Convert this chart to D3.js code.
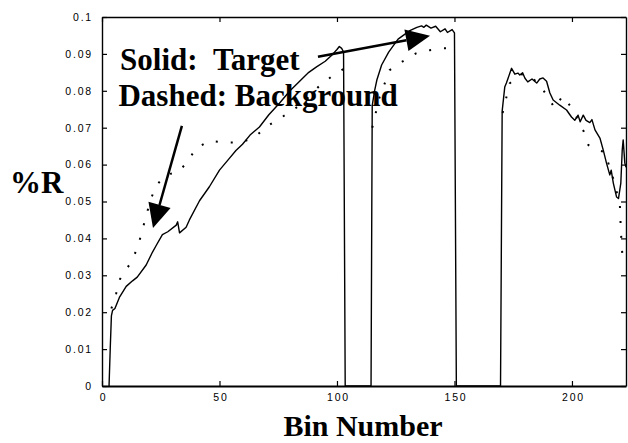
<!DOCTYPE html>
<html><head><meta charset="utf-8">
<script src="https://cdn.jsdelivr.net/npm/d3@7"></script>
<style>
html,body{margin:0;padding:0;background:#fff;}
svg{display:block;}
.tick text{font-family:"Liberation Sans",Arial,sans-serif;font-size:10.5px;letter-spacing:1.8px;fill:#000;}
</style></head>
<body>
<script>
// ---- data ----
const solidBins = [3,3.5,4,4.5,5.5,7.4,10.3,13,15,18.8,21.5,23,25.7,28,31.6,32.2,33,35.8,37.2,41.5,45.7,50,54.2,57,59.8,63,67,71,75.6,80,84,88,91.3,95,98,100,101,102,102.8,103.5,
  114.5,115,116,117,119,122,126,131,134,136,137,138,140,142,144,146,147,149,150,150.8,
  169.6,170.3,171.4,172.1,174.3,175.7,177,177.8,179,180,181.2,183,185,186.3,187.7,189.2,190.6,192,194.8,197.7,199.8,201.2,202.6,203.5,204.8,206,207.6,208.5,209.8,211.9,213.3,214.7,216.1,216.7,217.6,219,219.8,220.8,221.4,221.8,222.5,223];
const solidVals = [0,0.010,0.019,0.0205,0.021,0.024,0.027,0.0285,0.0295,0.0328,0.0363,0.038,0.041,0.0418,0.0436,0.0445,0.0415,0.043,0.045,0.0502,0.054,0.0585,0.0617,0.0638,0.0655,0.068,0.0702,0.0735,0.0767,0.080,0.0825,0.085,0.0865,0.088,0.0898,0.0912,0.092,0.0915,0.0905,0,
  0,0.076,0.080,0.083,0.087,0.0905,0.094,0.0963,0.0972,0.0976,0.0972,0.0978,0.097,0.0975,0.096,0.0968,0.0958,0.0966,0.0957,0,
  0,0.0745,0.081,0.0821,0.0861,0.0845,0.0848,0.0843,0.0849,0.0834,0.0824,0.0832,0.0821,0.0832,0.0835,0.0826,0.0794,0.0775,0.0761,0.0748,0.0729,0.072,0.0734,0.0716,0.0734,0.072,0.0714,0.0722,0.0694,0.0672,0.064,0.0604,0.0572,0.0585,0.055,0.0512,0.0508,0.055,0.064,0.0667,0.0604,0.0593];

const dashBins1 = [4,6,7.7,11.6,14.7,16.7,18.5,20.5,22.7,26,29,32.5,36.3,40.1,45.7,52.5,59.4,65,70.5,75.6,80.7,86,92,97.6,103];
const dashVals1 = [0.021,0.025,0.029,0.0328,0.0368,0.041,0.0455,0.050,0.054,0.0565,0.0575,0.058,0.0607,0.0645,0.0664,0.066,0.066,0.0675,0.0705,0.0725,0.0745,0.077,0.081,0.0838,0.086];
const dashBins2 = [115,118,122.4,128,133.8,139.5,145,150.5];
const dashVals2 = [0.070,0.078,0.0856,0.088,0.0902,0.091,0.0915,0.0915];
const dashBins3 = [170.5,173.5,178,182,187,192.7,196,200,205,207,210.5,214,218,220.4,220.7,221,221.5,222];
const dashVals3 = [0.074,0.082,0.0845,0.0843,0.081,0.0753,0.0786,0.0753,0.069,0.0653,0.064,0.0634,0.0553,0.049,0.044,0.040,0.035,0.033];

const xTicks = [0,50,100,150,200];
const xTickLabels = ["0","50","100","150","200"];
const yTicks = [0,0.01,0.02,0.03,0.04,0.05,0.06,0.07,0.08,0.09,0.1];
const yTickLabels = ["0","0.01","0.02","0.03","0.04","0.05","0.06","0.07","0.08","0.09","0.1"];

const xLabel = "Bin Number";
const yLabel = "%R";
const annoSolidKey = "Solid:", annoSolidVal = "Target";
const annoDashKey = "Dashed:", annoDashVal = "Background";
// arrows given in data coordinates [bin, value]
const arrow1 = [[34,0.0705],[21.7,0.0428]];
const arrow2 = [[91.9,0.0892],[139.6,0.0949]];

// ---- layout ----
const W = 628, H = 443;
const L = 102, R = 626, T = 17, B = 386;
const SERIF = '"Liberation Serif","Times New Roman",Times,serif';
const x = d3.scaleLinear().domain([0,223]).range([L,R]);
const y = d3.scaleLinear().domain([0,0.1]).range([B,T]);

const svg = d3.select("body").append("svg").attr("width",W).attr("height",H);

svg.append("defs").append("clipPath").attr("id","clip")
  .append("rect").attr("x",L).attr("y",T).attr("width",R-L).attr("height",B-T);

const line = d3.line().x(d=>x(d[0])).y(d=>y(d[1]));
const zip = (a,b)=>a.map((v,i)=>[v,b[i]]);

const plot = svg.append("g").attr("clip-path","url(#clip)");
plot.append("path").datum(zip(solidBins,solidVals)).attr("d",line)
  .attr("fill","none").attr("stroke","#000").attr("stroke-width",1.4).attr("stroke-linejoin","round");
[[dashBins1,dashVals1],[dashBins2,dashVals2],[dashBins3,dashVals3]].forEach(([b,v])=>{
  plot.append("path").datum(zip(b,v)).attr("d",line)
    .attr("fill","none").attr("stroke","#000").attr("stroke-width",2)
    .attr("stroke-dasharray","2,13");
});

// axes
const gx = svg.append("g").attr("transform",`translate(0,${B})`)
  .call(d3.axisBottom(x).tickValues(xTicks).tickFormat((d,i)=>xTickLabels[i]).tickSizeInner(-5).tickSizeOuter(0).tickPadding(8));
const gy = svg.append("g").attr("transform",`translate(${L},0)`)
  .call(d3.axisLeft(y).tickValues(yTicks).tickFormat((d,i)=>yTickLabels[i]).tickSizeInner(-5).tickSizeOuter(0).tickPadding(9));
const gt = svg.append("g").attr("transform",`translate(0,${T})`)
  .call(d3.axisTop(x).tickValues(xTicks).tickFormat("").tickSizeInner(-5).tickSizeOuter(0));
const gr = svg.append("g").attr("transform",`translate(${R},0)`)
  .call(d3.axisRight(y).tickValues(yTicks).tickFormat("").tickSizeInner(-5).tickSizeOuter(0));
[gx,gy,gt,gr].forEach(g=>{
  g.selectAll("path.domain").attr("stroke","#000").attr("stroke-width",1.4);
  g.selectAll(".tick line").attr("stroke","#000").attr("stroke-width",1.2);
});
gx.select("path.domain").attr("stroke-width",2);
gx.selectAll(".tick text").attr("dx","1px");

function bigText(xp, yp, s, size, anchor){
  return svg.append("text").attr("x",xp).attr("y",yp)
    .attr("font-family",SERIF).attr("font-weight","bold").attr("font-size",size)
    .attr("text-anchor",anchor||"start").attr("fill","#000").text(s);
}

// labels
bigText(363, 436, xLabel, 30, "middle");
bigText(10, 193, yLabel, 31);

// annotations
bigText(x(7.7), y(0.0856), annoSolidKey, 31);
bigText(x(47.2), y(0.0856), annoSolidVal, 31);
bigText(x(7.0), y(0.0759), annoDashKey+" "+annoDashVal, 31);

function arrow(a, headLen, headW){
  const [x0,y0] = [x(a[0][0]), y(a[0][1])];
  const [x1,y1] = [x(a[1][0]), y(a[1][1])];
  const dx = x1-x0, dy = y1-y0, len = Math.hypot(dx,dy);
  const ux = dx/len, uy = dy/len;
  const bx = x1-ux*headLen, by = y1-uy*headLen;
  svg.append("line").attr("x1",x0).attr("y1",y0).attr("x2",bx).attr("y2",by)
    .attr("stroke","#000").attr("stroke-width",2.5);
  svg.append("path").attr("d",`M${x1},${y1}L${bx-uy*headW/2},${by+ux*headW/2}L${bx+uy*headW/2},${by-ux*headW/2}Z`)
    .attr("fill","#000");
}
arrow(arrow1, 24, 23);
arrow(arrow2, 24, 22);
</script>
</body></html>
